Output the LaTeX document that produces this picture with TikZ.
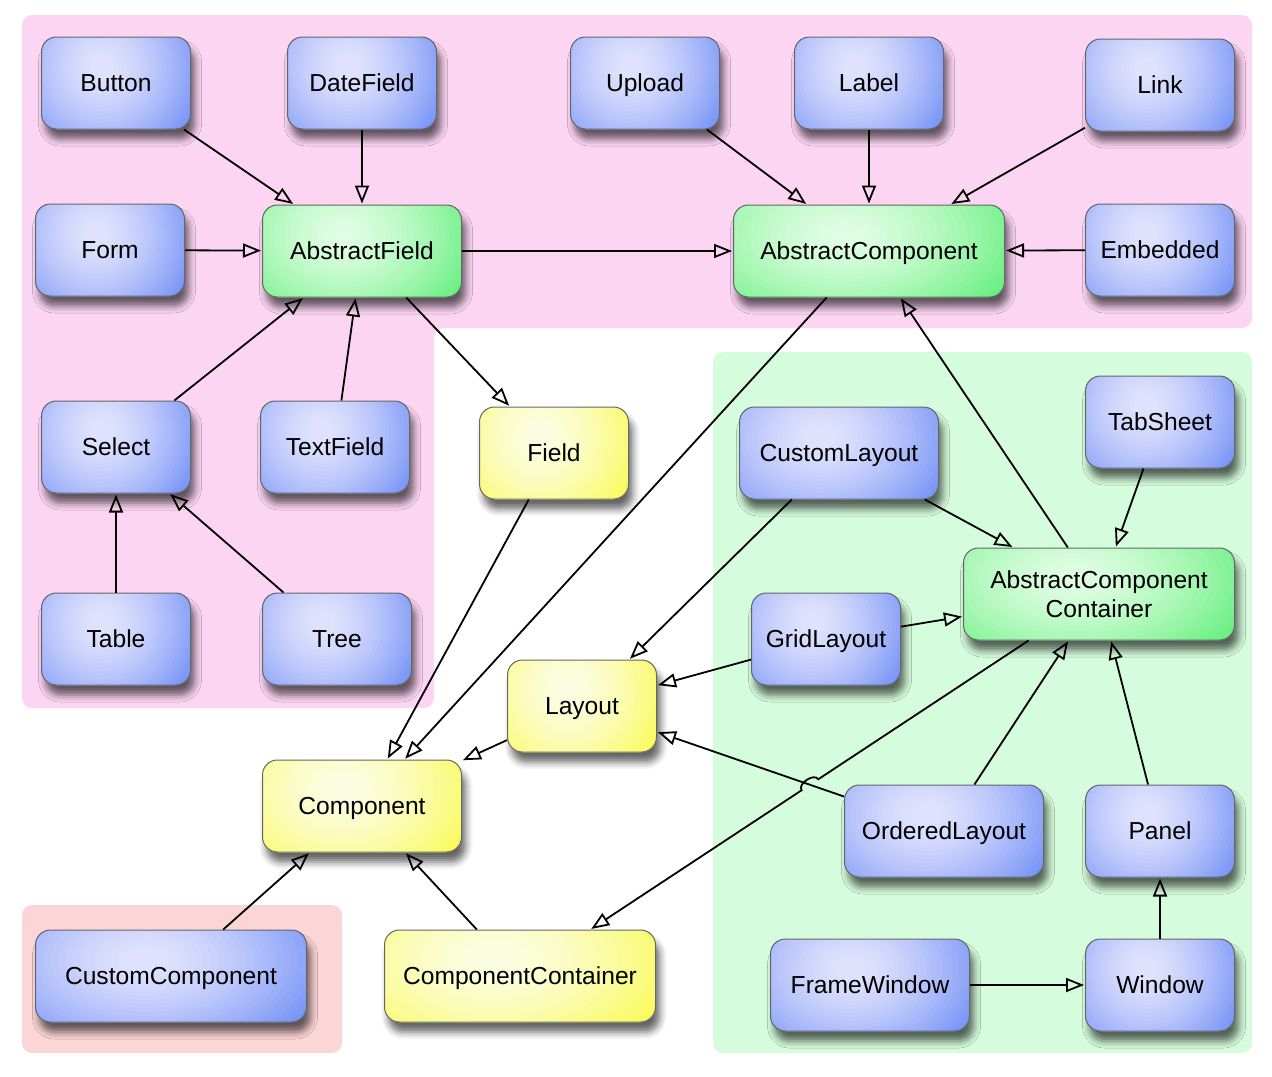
\documentclass[tikz,border=0pt]{standalone}
\usepackage{fontspec}
\setmainfont{Liberation Sans}
\usetikzlibrary{arrows.meta,shadows.blur,calc,intersections}

\definecolor{pinkbg}{RGB}{252,213,243}
\definecolor{greenbg}{RGB}{213,252,220}
\definecolor{redbg}{RGB}{252,213,215}
\definecolor{bluelt}{RGB}{224,226,253}
\definecolor{bluedk}{RGB}{108,140,246}
\definecolor{greenlt}{RGB}{222,253,226}
\definecolor{greendk}{RGB}{92,238,118}
\definecolor{yellowlt}{RGB}{251,253,226}
\definecolor{yellowdk}{RGB}{250,250,78}

\begin{document}
\begin{tikzpicture}[x=0.5pt,y=-0.5pt,
  box/.style={draw=black!60, line width=0.5pt, rounded corners=7.5pt,
    minimum width=74.5pt, minimum height=46pt, align=center, inner sep=2pt,
    text height=8.8pt, text depth=0pt,
    blur shadow={shadow xshift=2pt, shadow yshift=-5pt, shadow blur radius=3.5pt, shadow opacity=60},
    font=\fontsize{12.3}{14.5}\selectfont},
  glow/.style={fill=#1dk, path picture={
    \pgfpointdiff{\pgfpointanchor{path picture bounding box}{south west}}{\pgfpointanchor{path picture bounding box}{north east}}
    \pgfgetlastxy{\bw}{\bh}
    \pgfmathsetmacro\sx{\bw/74.5}
    \coordinate (gc) at ($(path picture bounding box.center)+(-0.094*\bw,8pt)$);
    \foreach \r in {60,58,...,2}{
      \pgfmathsetmacro\p{min(100,100*pow(max(\r-4,0.1)/52,1.4))}
      \pgfmathsetmacro\rx{\sx*\r}
      \fill[#1dk!\p!#1lt] (gc) ellipse [x radius=\rx pt, y radius=\r pt];
    }}},
  impl/.style={box, glow=blue},
  abst/.style={box, glow=green},
  intf/.style={box, glow=yellow},
  wide/.style={minimum width=99.5pt},
  wider/.style={minimum width=135.5pt},
  inh/.style={-{Triangle[open,length=9pt,width=7pt]}, line width=0.9pt, shorten >=0.5pt}]
\useasboundingbox (0,0) rectangle (1272,1076);
\fill[pinkbg, rounded corners=5pt] (22,15) -- (1252,15) -- (1252,328) -- (434,328) -- (434,708) -- (22,708) -- cycle;
\fill[greenbg, rounded corners=5pt] (713,352) rectangle (1252,1053);
\fill[redbg, rounded corners=5pt] (22,905) rectangle (342,1053);

\node[impl] (button) at (116,83) {Button};
\node[impl] (datefield) at (362,83) {DateField};
\node[impl] (upload) at (645,83) {Upload};
\node[impl] (label) at (869,83) {Label};
\node[impl] (link) at (1160,85) {Link};
\node[impl] (form) at (110,250) {Form};
\node[abst,wide] (afield) at (362,251) {AbstractField};
\node[abst,wider] (acomp) at (869,251) {AbstractComponent};
\node[impl] (embedded) at (1160,250) {Embedded};
\node[impl] (select) at (116,447) {Select};
\node[impl] (textfield) at (335,447) {TextField};
\node[intf] (field) at (554,453) {Field};
\node[impl,wide] (customlayout) at (839,453) {CustomLayout};
\node[impl] (tabsheet) at (1160,422) {TabSheet};
\node[abst,wider,text height=,text depth=] (acc) at (1099,594) {AbstractComponent\\Container};
\node[impl] (table) at (116,639) {Table};
\node[impl] (tree) at (337,639) {Tree};
\node[impl] (gridlayout) at (826,639) {GridLayout};
\node[intf] (layout) at (582,706) {Layout};
\node[intf,wide] (component) at (362,806) {Component};
\node[impl,wide] (orderedlayout) at (944,831) {OrderedLayout};
\node[impl] (panel) at (1160,831) {Panel};
\node[impl,wider] (customcomp) at (171,976) {CustomComponent};
\node[intf,wider] (ccont) at (520,976) {ComponentContainer};
\node[impl,wide] (framewindow) at (870,985) {FrameWindow};
\node[impl] (window) at (1160,985) {Window};

\draw[inh] (button) -- (afield);
\draw[inh] (datefield) -- (afield);
\draw[inh] (form) -- (afield);
\draw[inh] (select) -- (afield);
\draw[inh] (textfield) -- (afield);
\draw[inh] (table) -- (select);
\draw[inh] (tree) -- (select);
\draw[inh] (afield) -- (acomp);
\draw[inh] (afield) -- (field);
\draw[inh] (upload) -- (acomp);
\draw[inh] (label) -- (acomp);
\draw[inh] (link) -- (acomp);
\draw[inh] (embedded) -- (acomp);
\draw[inh] (acomp) -- (component);
\draw[inh] (field) -- (component);
\draw[inh] (layout) -- (component);
\draw[inh] (customlayout) -- (layout);
\draw[inh] (customlayout) -- (acc);
\draw[inh] (gridlayout) -- (layout);
\draw[inh] (gridlayout) -- (acc);
\draw[inh] (tabsheet) -- (acc);
\draw[inh] (acc) -- (acomp);
\draw[inh, name path=ollay] (orderedlayout) -- (layout);
\draw[inh] (orderedlayout) -- (acc);
\draw[inh] (panel) -- (acc);
\draw[inh] (window) -- (panel);
\draw[inh] (framewindow) -- (window);
\draw[inh] (customcomp) -- (component);
\draw[inh] (ccont) -- (component);
% jump over the OrderedLayout line
\path[name path=acccc] (acc) -- (ccont);
\path[name intersections={of=ollay and acccc, by=jx}];
\coordinate (j1) at ($(jx)!5pt!(acc)$);
\coordinate (j2) at ($(jx)!5pt!(ccont)$);
\draw[inh] (acc) -- (j1) to[out=123,in=123] (j2) -- (ccont);
\end{tikzpicture}
\end{document}
